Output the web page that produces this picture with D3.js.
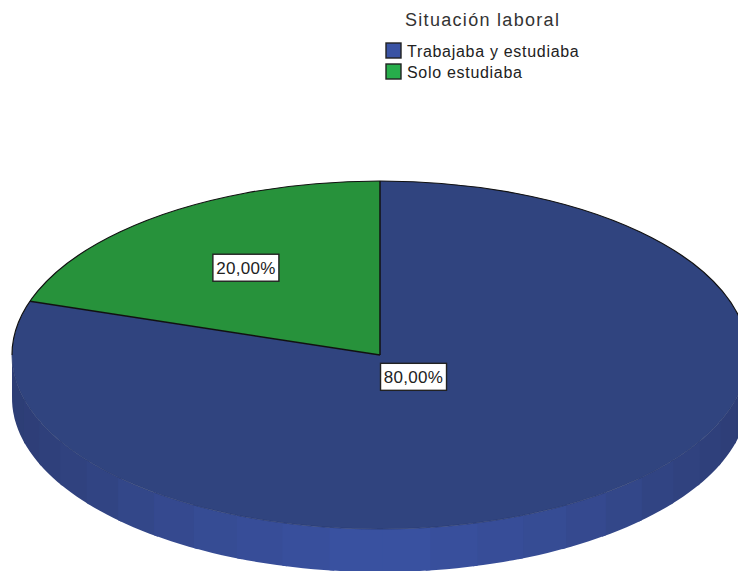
<!DOCTYPE html>
<html>
<head>
<meta charset="utf-8">
<script src="https://cdn.jsdelivr.net/npm/d3@7"></script>
<style>
  html, body { margin: 0; padding: 0; background: #fff; overflow: hidden; }
  svg { display: block; }
  text { font-family: "Liberation Sans", Arial, sans-serif; }
</style>
</head>
<body>
<div id="chart"></div>
<script>
// Chart data
var legendTitle = 'Situación laboral';
var categories = ['Trabajaba y estudiaba', 'Solo estudiaba'];
var percents = [80, 20];

// Colors of the top face and the legend swatches
var topColors = ['#30447f', '#27923b'];
var swatchColors = ['#3a53a4', '#27ae4b'];

var width = 738,
    height = 571;

// Ellipse of the top face and thickness of the disc
var cx = 380,
    cy = 355,
    rx = 368,
    ry = 174,
    depth = 43;

var svg = d3.select('#chart').append('svg')
    .attr('width', width)
    .attr('height', height);

var pie = d3.pie().sort(null).value(function(d) { return d; });
var slices = pie(percents);

// Side wall: front half of the disc, cut in flat facets
var facetStep = Math.PI / 24;
var facets = d3.range(Math.PI / 2, Math.PI * 1.5 - 0.001, facetStep);
var wallColor = d3.scaleLinear()
    .domain([0, 0.5, 1])
    .range(['#3a52a2', '#364b92', '#2d3d75']);

var wallArea = d3.area()
    .x(function(a) { return cx + rx * Math.sin(a); })
    .y0(function(a) { return cy - ry * Math.cos(a); })
    .y1(function(a) { return cy - ry * Math.cos(a) + depth; });

// Lay the facets from both ends towards the front so each overlaps the last
var facetOrder = facets.slice().sort(function(a, b) {
    return Math.abs(b + facetStep / 2 - Math.PI) - Math.abs(a + facetStep / 2 - Math.PI);
});

svg.append('g')
    .selectAll('path')
    .data(facetOrder)
    .enter().append('path')
    .attr('d', function(a) {
        // A few points per facet so the edge stays round, slightly oversized to hide seams
        return wallArea(d3.range(-0.05, 1.06, 0.22).map(function(t) { return a + t * facetStep; }));
    })
    .attr('fill', function(a) {
        return wallColor(Math.abs(Math.sin(a + facetStep / 2 - Math.PI)));
    });

// Top face, drawn as a circle squashed to the ellipse
var face = svg.append('g')
    .attr('transform', 'translate(' + cx + ',' + cy + ') scale(1,' + (ry / rx) + ')');

var arc = d3.arc().innerRadius(0).outerRadius(rx);

face.selectAll('path.slice')
    .data(slices)
    .enter().append('path')
    .attr('class', 'slice')
    .attr('d', arc)
    .attr('fill', function(d, i) { return topColors[i]; });

// Faint line where the face meets the wall
var rim = d3.arc().innerRadius(rx).outerRadius(rx);
face.append('path')
    .attr('d', rim({ startAngle: Math.PI / 2, endAngle: Math.PI * 1.5 }))
    .attr('fill', 'none')
    .attr('stroke', '#2a3a70')
    .attr('stroke-width', 0.8)
    .attr('stroke-opacity', 0.6)
    .attr('vector-effect', 'non-scaling-stroke');

// Black outline on the far half and along the slice borders
face.append('path')
    .attr('d', rim({ startAngle: -Math.PI / 2, endAngle: Math.PI / 2 }))
    .attr('fill', 'none')
    .attr('stroke', '#111')
    .attr('stroke-width', 1.2)
    .attr('vector-effect', 'non-scaling-stroke');

face.selectAll('line')
    .data([slices[0].startAngle, slices[0].endAngle])
    .enter().append('line')
    .attr('x1', 0)
    .attr('y1', 0)
    .attr('x2', function(a) { return rx * Math.sin(a); })
    .attr('y2', function(a) { return -rx * Math.cos(a); })
    .attr('stroke', '#111')
    .attr('stroke-width', 1.5)
    .attr('vector-effect', 'non-scaling-stroke');

// Value labels with their white boxes
var labelRadius = [0.155, 0.62];
var boxW = 66,
    boxH = 27;

var labels = svg.append('g')
    .selectAll('g')
    .data(slices)
    .enter().append('g')
    .attr('transform', function(d, i) {
        var mid = (d.startAngle + d.endAngle) / 2;
        var x = cx + rx * labelRadius[i] * Math.sin(mid);
        var y = cy - ry * labelRadius[i] * Math.cos(mid);
        return 'translate(' + x + ',' + y + ')';
    });

labels.append('rect')
    .attr('x', -boxW / 2)
    .attr('y', -boxH / 2)
    .attr('width', boxW)
    .attr('height', boxH)
    .attr('fill', '#fff')
    .attr('stroke', '#222')
    .attr('stroke-width', 1.4);

labels.append('text')
    .attr('text-anchor', 'middle')
    .attr('y', 6)
    .style('font-size', '17px')
    .style('letter-spacing', '0.3px')
    .attr('fill', '#222')
    .text(function(d) { return d.value.toFixed(2).replace('.', ',') + '%'; });

// Legend
svg.append('text')
    .attr('x', 405)
    .attr('y', 26)
    .style('font-size', '18px')
    .style('letter-spacing', '1.3px')
    .attr('fill', '#333')
    .text(legendTitle);

var legend = svg.append('g')
    .selectAll('g')
    .data(categories)
    .enter().append('g')
    .attr('transform', function(d, i) { return 'translate(386,' + (43 + i * 21) + ')'; });

legend.append('rect')
    .attr('width', 15)
    .attr('height', 15)
    .attr('fill', function(d, i) { return swatchColors[i]; })
    .attr('stroke', '#222')
    .attr('stroke-width', 1.4);

legend.append('text')
    .attr('x', 21)
    .attr('y', 14)
    .style('font-size', '16px')
    .style('letter-spacing', '0.7px')
    .attr('fill', '#222')
    .text(function(d) { return d; });
</script>
</body>
</html>
